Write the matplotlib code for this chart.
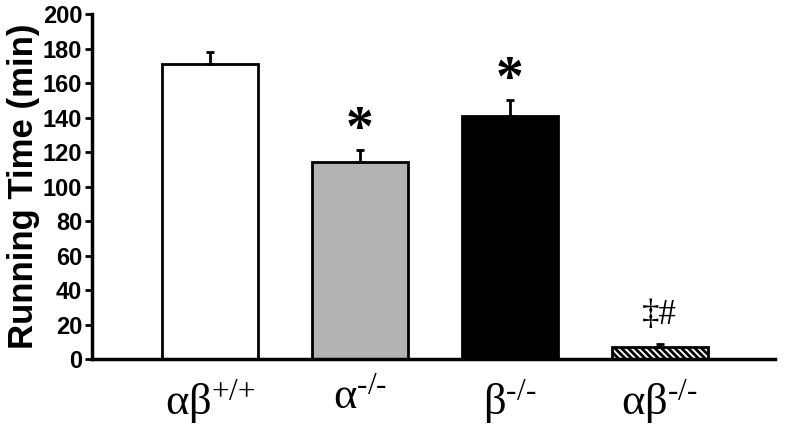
import numpy as np
import matplotlib
matplotlib.use('Agg')
import matplotlib.pyplot as plt

plt.rcParams['mathtext.fontset'] = 'custom'
plt.rcParams['mathtext.rm'] = 'Liberation Serif'
plt.rcParams['mathtext.default'] = 'regular'
plt.rcParams['hatch.linewidth'] = 2.0

# data
GROUPS  = [r'αβ$^{\text{+/+}}$', r'α$^{\text{-/-}}$', r'β$^{\text{-/-}}$', r'αβ$^{\text{-/-}}$']
MEANS   = [171, 114, 141, 7]
SEM     = [7, 7, 9, 2]
MARKS   = ['', '*', '*', '‡#']
COLORS  = ['white', '#b3b3b3', 'black', 'white']
HATCHES = [None, None, None, '\\\\\\\\\\']
YTICKS  = [0, 20, 40, 60, 80, 100, 120, 140, 160, 180, 200]

fig = plt.figure(figsize=(7.87, 4.28), dpi=100)
ax = fig.add_axes([0.117, 0.161, 0.868, 0.806])

x = np.arange(len(GROUPS))
bars = ax.bar(x, MEANS, width=0.64, color=COLORS, edgecolor='black',
              linewidth=2, zorder=2)
for b, h in zip(bars, HATCHES):
    if h:
        b.set_hatch(h)

ax.errorbar(x, MEANS, yerr=[np.zeros(len(SEM)), SEM], fmt='none',
            ecolor='black', elinewidth=2, capsize=3, capthick=2, zorder=3)

for xi, m, s, mk in zip(x, MEANS, SEM, MARKS):
    if mk == '*':
        ax.text(xi, m + s + 11.5, '*', ha='center', va='center', fontsize=40,
                fontweight='bold', family='Liberation Serif')
    elif mk:
        ax.text(xi, m + s + 16, mk, ha='center', va='center', fontsize=25,
                family='Liberation Serif')

ax.set_xlim(-0.787, 3.77)
ax.set_ylim(0, 200)
ax.set_yticks(YTICKS)
ax.set_yticklabels([str(t) for t in YTICKS], fontsize=17, fontweight='bold',
                   family='Liberation Sans')
ax.set_xticks(x)
ax.set_xticklabels(GROUPS, fontsize=32, family='Liberation Serif')
ax.tick_params(axis='x', length=0, pad=13)
ax.tick_params(axis='y', length=5, width=2, pad=2)
ax.set_ylabel('Running Time (min)', fontsize=25, fontweight='bold',
              family='Liberation Sans', labelpad=2)

ax.spines[['top', 'right']].set_visible(False)
ax.spines['left'].set_linewidth(2.5)
ax.spines['bottom'].set_linewidth(2.5)

plt.savefig('out.png', dpi=100)
